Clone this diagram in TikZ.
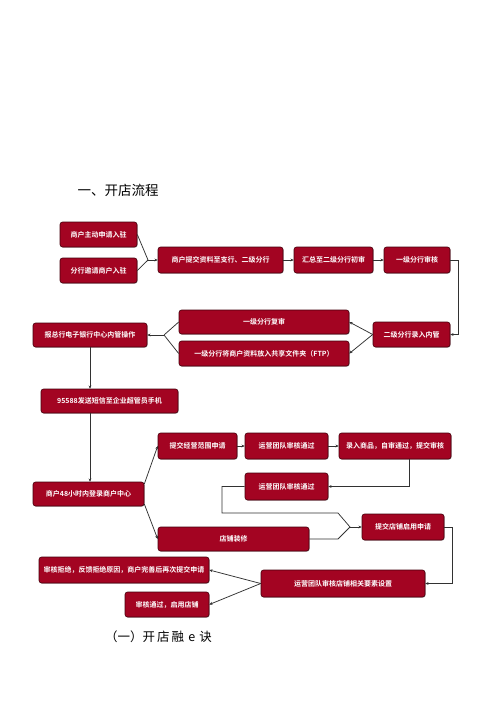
\documentclass[tikz,border=0pt]{standalone}
\usepackage{fontspec}
\newfontfamily\cjk{Noto Sans CJK SC}
\newfontfamily\cjkb{Noto Sans CJK SC}[BoldFont={* Bold}]
\usetikzlibrary{arrows.meta,shadows,calc}
\definecolor{boxred}{RGB}{163,4,34}
\definecolor{boxdark}{RGB}{70,0,12}
\definecolor{linec}{RGB}{50,50,50}
\tikzset{
  box/.style={rectangle, rounded corners=2.5pt, fill=boxred, draw=boxdark, line width=0.6pt,
    text=white, font=\cjkb\bfseries\fontsize{7}{8}\selectfont, inner sep=0pt, align=center,
    drop shadow={shadow xshift=0.6pt, shadow yshift=-0.6pt, opacity=0.35, fill=black}},
  conn/.style={draw=linec, line width=0.75pt},
  arr/.style={conn, -{Stealth[length=3.2pt,width=2.8pt]}},
}
\begin{document}
\begin{tikzpicture}[x=1pt,y=-1pt]
\useasboundingbox[fill=white] (0,0) rectangle (500,707);
\node[anchor=west, font=\cjk\fontsize{13.5}{15}\selectfont] (title) at (74,190) {一、开店流程};

\node[box, minimum width=77pt, minimum height=25pt] (a1) at (98.5,234.5) {商户主动申请入驻};
\node[box, minimum width=77pt, minimum height=25pt] (a2) at (98.5,270.5) {分行邀请商户入驻};
\node[box, minimum width=125pt, minimum height=26pt] (b) at (220.5,260) {商户提交资料至支行、二级分行};
\node[box, minimum width=79pt, minimum height=26pt] (c) at (333.5,260) {汇总至二级分行初审};
\node[box, minimum width=66pt, minimum height=26pt] (d) at (417,260) {一级分行审核};
\node[box, minimum width=77pt, minimum height=25pt] (e) at (411.5,334.5) {二级分行录入内管};
\node[box, minimum width=170pt, minimum height=24pt] (f1) at (264,322) {一级分行复审};
\node[box, minimum width=170pt, minimum height=25pt] (f2) at (264,353.5) {一级分行将商户资料放入共享文件夹（FTP）};
\node[box, minimum width=114pt, minimum height=24pt] (g) at (90,335) {报总行电子银行中心内管操作};
\node[box, minimum width=137pt, minimum height=24pt] (h) at (109.5,401) {95588发送短信至企业超管员手机};
\node[box, minimum width=111pt, minimum height=24pt] (i) at (88.5,494) {商户48小时内登录商户中心};
\node[box, minimum width=79pt, minimum height=26pt] (j) at (197.5,446) {提交经营范围申请};
\node[box, minimum width=151pt, minimum height=24pt] (k) at (233.5,539) {店铺装修};
\node[box, minimum width=83pt, minimum height=26pt] (l) at (286.5,446) {运营团队审核通过};
\node[box, minimum width=112pt, minimum height=26pt] (m) at (395,446) {录入商品，自审通过，提交审核};
\node[box, minimum width=83pt, minimum height=27pt] (n) at (286.5,486.5) {运营团队审核通过};
\node[box, minimum width=82pt, minimum height=26pt] (o) at (403,527) {提交店铺启用申请};
\node[box, minimum width=164pt, minimum height=27pt] (p) at (343,583.5) {运营团队审核店铺相关要素设置};
\node[box, minimum width=170pt, minimum height=26pt] (q) at (124,570) {审核拒绝，反馈拒绝原因，商户完善后再次提交申请};
\node[box, minimum width=84pt, minimum height=25pt] (r) at (167,604.5) {审核通过，启用店铺};

\node[font=\cjk\fontsize{12.5}{14}\selectfont] (cap) at (158.5,637) {（一）开\,店\,融\,\,e\,\,诀};

\coordinate (m1) at (148,260);
\coordinate (m2) at (164,335);
\coordinate (m3) at (350,527);
\coordinate (m4) at (222,513);
\coordinate (m5) at (338,513);
\coordinate (m6) at (338,539);
\coordinate (m7) at (458,260);
\coordinate (m8) at (452,527);
\coordinate (m9) at (409,489);

\draw[conn] (a1.east) -- (m1);
\draw[conn] (a2.east) -- (m1);
\draw[arr] (m1) -- (b.west);
\draw[arr] (b.east) -- (c.west);
\draw[arr] (c.east) -- (d.west);
\draw[arr] (d.east) -- (m7) |- (e.east);
\draw[arr] (e.west) -- (f1.east);
\draw[arr] (e.west) -- (f2.east);
\draw[conn] (f1.west) -- (m2);
\draw[conn] (f2.west) -- (m2);
\draw[arr] (m2) -- (g.east);
\draw[arr] (g.south) -- (h.north -| g.south);
\draw[arr] (h.south -| g.south) -- (i.north -| g.south);
\draw[arr] ([yshift=10pt]i.east) -- (j.west);
\draw[arr] ([yshift=-10pt]i.east) -- (k.west);
\draw[arr] (j.east) -- (l.west);
\draw[arr] (l.east) -- (m.west);
\draw[arr] (m.south -| m9) |- (n.east);
\draw[conn] (n.west) -| (m4) -- (m5) -- (m3);
\draw[conn] (k.east) -- (m6) -- (m3);
\draw[arr] (m3) -- (o.west);
\draw[arr] (o.east) -- (m8) |- (p.east);
\draw[arr] (p.west) -- (q.east);
\draw[arr] (p.west) -- (r.east);
\end{tikzpicture}
\end{document}
